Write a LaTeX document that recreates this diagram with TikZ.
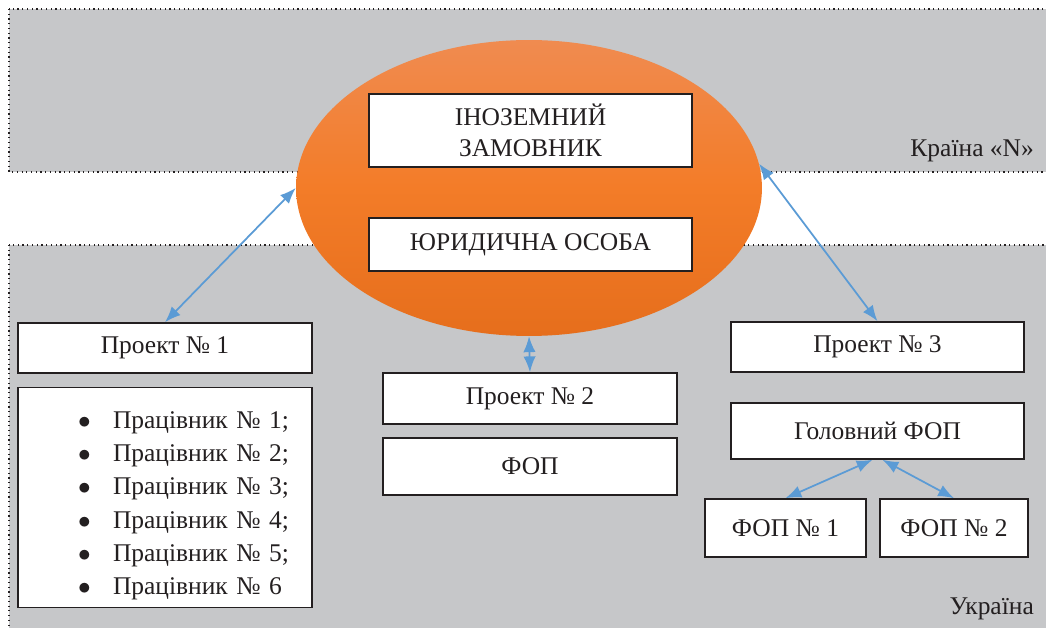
\documentclass[tikz,border=0pt]{standalone}
\usepackage{fontspec}
\setmainfont{Liberation Serif}
\usetikzlibrary{shapes.geometric,arrows.meta,positioning}
\definecolor{zonegray}{HTML}{C6C7C9}
\definecolor{linkblue}{HTML}{5B9BD5}
\definecolor{elltop}{HTML}{F08B50}
\definecolor{ellmid}{HTML}{F37C28}
\definecolor{ellbot}{HTML}{E66E1C}
\definecolor{inkdark}{HTML}{231F20}

\begin{document}
\begin{tikzpicture}[x=0.02cm,y=-0.02cm,
  zone/.style={fill=zonegray,draw=inkdark,dotted,line width=0.7pt},
  box/.style={draw=inkdark,line width=0.9pt,fill=white,inner sep=2pt,align=center,text=inkdark,font=\fontsize{14.5}{18}\selectfont},
  lbl/.style={anchor=base east,text=inkdark,font=\fontsize{14.5}{18}\selectfont},
  link/.style={draw=linkblue,line width=1pt,{Latex[length=9pt,width=7pt]}-{Latex[length=9pt,width=7pt]}}]
\useasboundingbox (0,0) rectangle (1046,628);
\draw[zone] (9,9) rectangle (1070,172);
\draw[zone] (9,245) rectangle (1070,650);
\node[lbl] (country) at (1040,157) {Країна «N»};
\node[lbl] (ukraine) at (1040,615) {Україна};
\node[ellipse,minimum width=9.32cm,minimum height=5.92cm,inner sep=0,
  top color=elltop,bottom color=ellbot,middle color=ellmid] (client) at (529,188) {};
\node[box,minimum width=6.46cm,minimum height=1.46cm] (foreign) at (530.5,130.5) {ІНОЗЕМНИЙ\\ЗАМОВНИК};
\node[box,minimum width=6.46cm,minimum height=1.06cm] (legal) at (530.5,244.5) {ЮРИДИЧНА ОСОБА};
\node[box,minimum width=5.88cm,minimum height=1.0cm] (proj1) at (165,348) {Проект № 1};
\node[box,text width=5.6cm,inner sep=0.14cm,minimum height=4.3cm,align=left,font=\fontsize{14.5}{19}\selectfont] (staff) at (165,497.5)
  {\rule{0pt}{19pt}\hspace*{1.06cm}\makebox[0.7cm][l]{$\bullet$}Працівник № 1;\\
   \hspace*{1.06cm}\makebox[0.7cm][l]{$\bullet$}Працівник № 2;\\
   \hspace*{1.06cm}\makebox[0.7cm][l]{$\bullet$}Працівник № 3;\\
   \hspace*{1.06cm}\makebox[0.7cm][l]{$\bullet$}Працівник № 4;\\
   \hspace*{1.06cm}\makebox[0.7cm][l]{$\bullet$}Працівник № 5;\\
   \hspace*{1.06cm}\makebox[0.7cm][l]{$\bullet$}Працівник № 6};
\node[box,minimum width=5.88cm,minimum height=1.02cm] (proj2) at (530,398.5) {Проект № 2};
\node[box,minimum width=5.88cm,minimum height=1.14cm] (fop) at (530,466.5) {ФОП};
\node[box,minimum width=5.86cm,minimum height=1.0cm] (proj3) at (877.5,347) {Проект № 3};
\node[box,minimum width=5.86cm,minimum height=1.12cm] (mainfop) at (877.5,431) {Головний ФОП};
\node[box,minimum width=3.22cm,minimum height=1.16cm] (fop1) at (785.5,528) {ФОП № 1};
\node[box,minimum width=2.96cm,minimum height=1.16cm] (fop2) at (954,528) {ФОП № 2};
\draw[link] (proj1.north) -- (client.west);
\draw[link] (proj3.north) -- (client.6);
\draw[link] (client.south) -- (proj2.north);
\draw[link] ([xshift=-0.1cm]mainfop.south) -- (fop1.north);
\draw[link] ([xshift=0.1cm]mainfop.south) -- (fop2.north);
\end{tikzpicture}
\end{document}
